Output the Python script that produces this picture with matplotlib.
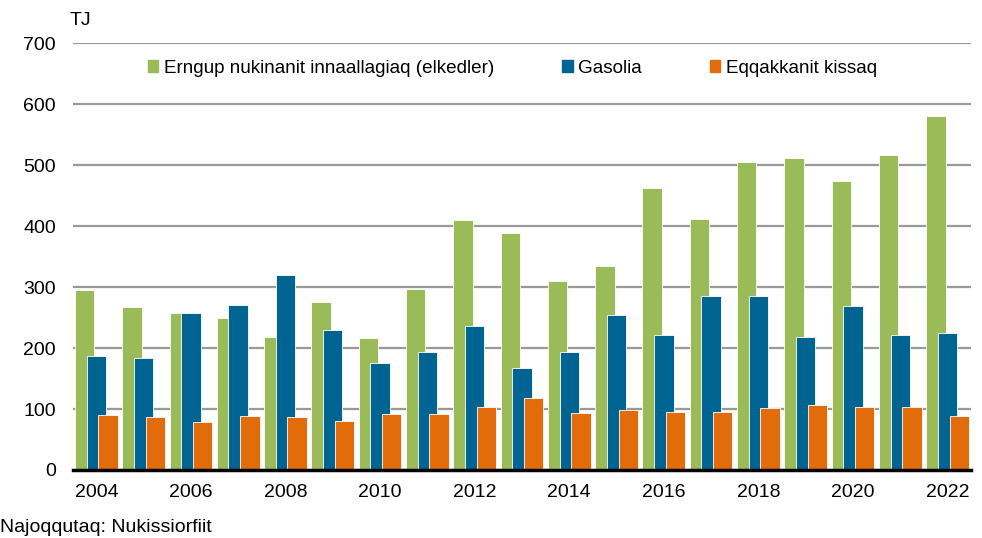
import matplotlib
matplotlib.use("Agg")
import matplotlib.pyplot as plt
import numpy as np
from matplotlib.patches import Patch

plt.rcParams['font.family'] = ['Liberation Sans', 'DejaVu Sans']

years = list(range(2004, 2023))
series_names = ["Erngup nukinanit innaallagiaq (elkedler)", "Gasolia", "Eqqakkanit kissaq"]
green = [295, 267, 257, 249, 218, 275, 216, 297, 410, 389, 310, 334, 462, 411, 505, 512, 474, 516, 580]
blue = [187, 184, 257, 270, 320, 229, 175, 193, 236, 167, 193, 254, 221, 285, 285, 218, 269, 221, 224]
orange = [90, 87, 78, 88, 87, 80, 91, 91, 103, 118, 93, 99, 95, 95, 101, 106, 103, 103, 88]
colors = ["#9BBB59", "#006492", "#E36C0A"]
yticks = [0, 100, 200, 300, 400, 500, 600, 700]
xtick_years = years[::2]

fig = plt.figure(figsize=(9.82, 5.38), dpi=100)
ax = fig.add_axes([0.074, 0.1264, 0.915, 0.7936])

x = np.arange(len(years))
w = 0.41
off = 0.247
for vals, dx, c in zip([green, blue, orange], [-off, 0, off], colors):
    ax.bar(x + dx, vals, width=w, color=c, edgecolor="white", linewidth=0.6, zorder=3)

ax.set_xlim(-0.5, len(years) - 0.5)
ax.set_ylim(0, 700)
ax.set_yticks(yticks)
ax.set_yticklabels([str(v) for v in yticks], fontsize=14)
ax.set_xticks([years.index(y) for y in xtick_years])
ax.set_xticklabels([str(y) for y in xtick_years], fontsize=14)
ax.tick_params(axis='x', length=0, pad=10)
ax.tick_params(axis='y', length=0, pad=12)
ax.grid(axis='y', color="#999999", linewidth=1.6, zorder=0)
for s in ["left", "right", "top"]:
    ax.spines[s].set_visible(False)
ax.spines["bottom"].set_color("black")
ax.spines["bottom"].set_linewidth(2.5)
ax.spines["bottom"].set_zorder(4)

handles = [Patch(color=c) for c in colors]
leg = fig.legend(handles, series_names, loc="center", bbox_to_anchor=(0.522, 0.873), ncol=3,
                 frameon=False, fontsize=13.6, handlelength=0.55, handleheight=0.55,
                 handletextpad=0.3, columnspacing=3.6)

fig.text(0.071, 0.962, "TJ", fontsize=14, ha="left", va="center")
fig.text(0.0, 0.02, "Najoqqutaq: Nukissiorfiit", fontsize=14, ha="left", va="center")

fig.savefig("out.png", dpi=100)
